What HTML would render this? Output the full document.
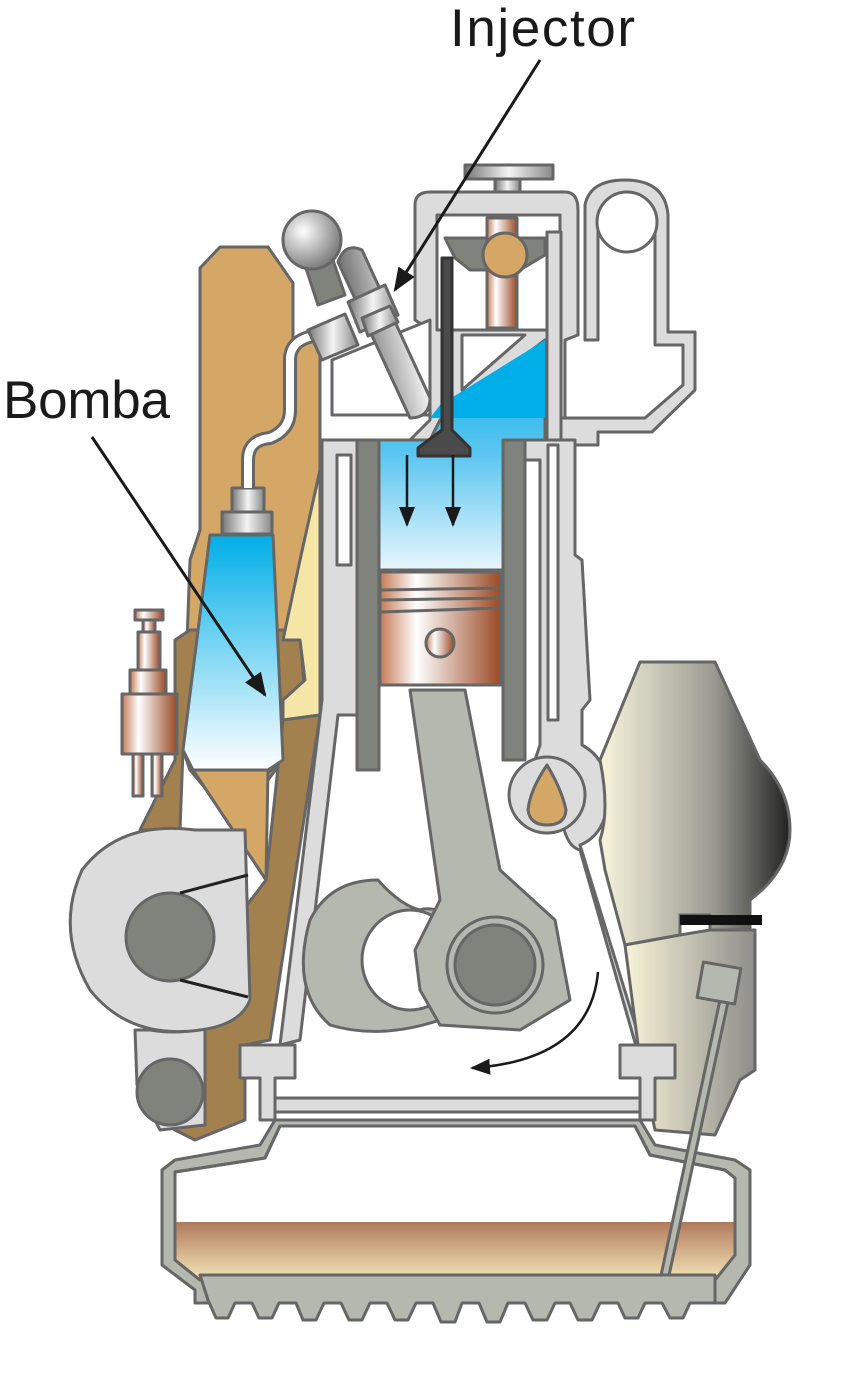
<!DOCTYPE html>
<html><head><meta charset="utf-8"><style>html,body{margin:0;padding:0;background:#fff}svg{display:block}</style></head>
<body>
<svg width="860" height="1393" viewBox="0 0 860 1393" xmlns="http://www.w3.org/2000/svg">
<defs>
<linearGradient id="blue" x1="0" y1="0" x2="0" y2="1"><stop offset="0" stop-color="#00aee8"/><stop offset="1" stop-color="#fff"/></linearGradient>
<linearGradient id="blue2" x1="0" y1="0" x2="0" y2="1"><stop offset="0" stop-color="#00aee8"/><stop offset="0.5" stop-color="#5cc6f0"/><stop offset="1" stop-color="#e8f6fd"/></linearGradient>
<linearGradient id="cu" x1="0" y1="0" x2="1" y2="0"><stop offset="0" stop-color="#c47a55"/><stop offset="0.3" stop-color="#fff"/><stop offset="1" stop-color="#9a4a25"/></linearGradient>
<linearGradient id="metal" x1="0" y1="0" x2="1" y2="0"><stop offset="0" stop-color="#777"/><stop offset="0.5" stop-color="#f4f4f4"/><stop offset="1" stop-color="#888"/></linearGradient>
<linearGradient id="metald" x1="0" y1="0" x2="1" y2="-0.45"><stop offset="0" stop-color="#777"/><stop offset="0.5" stop-color="#f4f4f4"/><stop offset="1" stop-color="#888"/></linearGradient>
<linearGradient id="cam" x1="0" y1="0" x2="1" y2="0"><stop offset="0" stop-color="#f8f5dc"/><stop offset="0.6" stop-color="#9a9a92"/><stop offset="1" stop-color="#222"/></linearGradient>
<linearGradient id="low" x1="0" y1="0" x2="1" y2="0"><stop offset="0" stop-color="#f8f4d8"/><stop offset="1" stop-color="#8e8e8a"/></linearGradient>
<linearGradient id="oil" x1="0" y1="0" x2="0" y2="1"><stop offset="0" stop-color="#b07a5c"/><stop offset="1" stop-color="#f4e6b8"/></linearGradient>
<radialGradient id="ball" cx="0.35" cy="0.35" r="0.7"><stop offset="0" stop-color="#fff"/><stop offset="1" stop-color="#777"/></radialGradient>
<marker id="ah" viewBox="0 0 10 10" refX="9" refY="5" markerWidth="8" markerHeight="8" orient="auto"><path d="M0,1 L10,5 L0,9 z" fill="#1a1a1a"/></marker>
</defs>
<g stroke="#666" stroke-width="3" stroke-linejoin="round">
<path d="M200,268 L220,247 L268,247 L293,283 L293,340 L320,340 L320,520 L300,630 L283,640 L283,760 L268,780 L193,770 L183,750 L190,560 L200,530 Z" fill="#d4a766"/>
<path d="M175,640 L190,630 L300,630 L305,700 L283,720 L283,760 L266,775 L266,880 L215,800 L190,770 L183,750 L180,830 L140,830 L175,760 Z" fill="#a3814f"/>
<path d="M300,560 L320,470 L320,715 L283,720 L283,700 L305,680 L300,640 L283,640 Z" fill="#f6e6a6"/>
<path d="M283,720 L320,715 L270,1040 L245,1045 L245,1120 L195,1140 L175,1130 L160,1120 L175,1000 L266,880 Z" fill="#a3814f"/>
<path d="M193,770 L268,770 L266,880 Z" fill="#d4a766"/>
<path d="M210,535 L273,535 L283,760 L268,770 L193,770 L183,750 Z" fill="url(#blue)"/>
<rect x="222" y="512" width="50" height="22" fill="url(#metal)"/>
<rect x="232" y="488" width="32" height="24" fill="url(#metal)"/>
<path d="M248,488 L248,460 Q248,440 270,438 Q290,430 290,410 L290,360 Q290,338 320,335" fill="none" stroke="#666" stroke-width="14"/>
<path d="M248,488 L248,460 Q248,440 270,438 Q290,430 290,410 L290,360 Q290,338 320,335" fill="none" stroke="#fff" stroke-width="8"/>
<rect x="135" y="610" width="28" height="10" fill="url(#cu)"/>
<rect x="143" y="620" width="12" height="12" fill="url(#cu)"/>
<rect x="138" y="632" width="22" height="38" fill="url(#cu)"/>
<rect x="130" y="670" width="36" height="24" fill="url(#cu)"/>
<rect x="122" y="694" width="55" height="60" fill="url(#cu)"/>
<rect x="133" y="754" width="10" height="42" fill="url(#cu)"/>
<rect x="152" y="754" width="10" height="42" fill="url(#cu)"/>
<path d="M250,1000 Q210,1040 150,1030 L135,1030 L137,1085 L160,1130 L205,1125 L205,1030" fill="#dcdcdc"/>
<path d="M245,830 L195,830 Q120,820 82,870 Q55,930 90,990 Q130,1040 200,1030 Q240,1025 250,1000 Z" fill="#dcdcdc"/>
<circle cx="170" cy="937" r="44" fill="#7f837b"/>
<circle cx="170" cy="1092" r="33" fill="#7f837b"/>
<line x1="180" y1="893" x2="248" y2="875" stroke="#222"/>
<line x1="180" y1="980" x2="248" y2="997" stroke="#222"/>
<path d="M320,440 L410,440 L430,420 L430,330 L415,320 L415,205 Q415,192 430,192 L565,192 Q578,192 578,210 L578,335 L565,340 L565,422 L545,422 L545,440 L320,440" fill="#dcdcdc"/>
<path d="M437,215 L560,215 L560,330 L545,330 L545,330 L437,330 Z" fill="#fff"/>
<path d="M585,205 Q590,180 625,180 Q665,180 668,215 L668,332 L695,332 L695,390 L652,432 L598,432 L598,445 L470,445 Q470,420 490,418 L645,418 L683,385 L683,345 L655,345 L655,225 Q650,195 625,195 Q600,195 598,225 L598,340 L585,340 Z" fill="#dcdcdc"/>
<circle cx="627" cy="222" r="30" fill="#fff"/>
<rect x="465" y="165" width="88" height="14" fill="url(#metal)"/>
<rect x="495" y="179" width="25" height="13" fill="url(#metal)"/>
<path d="M332,360 L430,320 L430,415 L332,415 Z" fill="#fff"/>
<path d="M378,440 L430,440 L440,420 L545,340 L545,440 L503,440 L503,570 L378,570 Z" fill="url(#blue2)"/>
<path d="M545,340 L545,418 L430,418 L440,405 Z" fill="#00aee8" stroke="none"/>
<path d="M462,335 L525,335 L462,390 Z" fill="#fff"/>
<path d="M445,238 L545,238 L545,255 L520,270 L470,270 L455,258 Z" fill="#7f837b"/>
<rect x="487" y="218" width="30" height="110" fill="url(#cu)"/>
<circle cx="505" cy="255" r="22" fill="#d4a766"/>
<rect x="547" y="232" width="14" height="210" fill="#dcdcdc"/>
<path d="M442,258 L452,258 L452,430 L470,448 L470,456 L418,456 L418,448 L442,430 Z" fill="#4a4a4a" stroke="#333"/>
<path d="M300,250 L318,305 L345,295 L326,240 Z" fill="#7f837b"/>
<circle cx="312" cy="240" r="29" fill="url(#ball)"/>
<path d="M338,262 Q345,242 362,250 L430,398 Q430,418 410,418 Z" fill="url(#metald)"/>
<path d="M348,302 L385,285 L398,315 L360,332 Z" fill="url(#metal)"/>
<path d="M362,318 L390,306 L398,322 L368,336 Z" fill="url(#metal)"/>
<path d="M308,330 L345,314 L358,345 L322,360 Z" fill="url(#metal)"/>
<rect x="357" y="440" width="22" height="330" fill="#7f837b"/>
<rect x="503" y="440" width="22" height="320" fill="#7f837b"/>
<path d="M322,440 L357,440 L357,715 L338,715 L300,1040 L280,1045 L322,700 Z" fill="#dcdcdc"/>
<rect x="337" y="455" width="14" height="110" fill="#fff"/>
<path d="M525,440 L575,440 L575,555 L582,560 L590,700 L582,710 L582,745 Q610,760 608,800 Q605,835 580,845 L640,1040 L660,1050 L640,1060 L580,850 Q560,845 560,790 L560,760 L535,760 L540,745 L540,460 L525,460 Z" fill="#dcdcdc"/>
<rect x="548" y="445" width="10" height="275" fill="#fff"/>
<circle cx="547" cy="795" r="38" fill="#dcdcdc"/>
<path d="M547,765 Q530,790 528,810 Q530,825 547,825 Q565,825 566,810 Q562,790 547,765 Z" fill="#d4a766"/>
<rect x="380" y="572" width="121" height="113" fill="url(#cu)"/>
<line x1="380" y1="590" x2="501" y2="588"/><line x1="380" y1="600" x2="501" y2="598"/><line x1="380" y1="612" x2="501" y2="608"/>
<circle cx="440" cy="643" r="14" fill="url(#cu)"/>
<path d="M378,880 Q330,880 310,920 Q290,990 330,1025 Q380,1040 440,1020 L470,920 Q430,905 420,910 Q400,905 378,880 Z" fill="#b4b8ae"/>
<ellipse cx="410" cy="960" rx="48" ry="50" fill="#fff"/>
<path d="M410,690 L465,690 L500,870 L555,920 L570,1000 L520,1030 L440,1025 L420,990 L415,950 L440,900 Z" fill="#b4b8ae"/>
<circle cx="495" cy="965" r="48" fill="#b4b8ae"/>
<circle cx="495" cy="965" r="40" fill="#7f837b"/>
<path d="M640,662 L715,662 L760,760 Q790,790 790,830 Q790,870 750,900 L750,930 L710,930 L710,915 L680,915 L680,935 L625,945 L605,870 L600,840 Q610,810 600,760 Z" fill="url(#cam)"/>
<rect x="680" y="915" width="82" height="10" fill="#111" stroke="none"/>
<path d="M625,945 L680,935 L710,930 L755,930 L755,1070 L740,1080 L715,1135 L655,1130 L640,1060 Z" fill="url(#low)"/>
<!-- sump -->
<path d="M175,1160 L260,1145 L275,1120 L640,1120 L655,1145 L735,1160 L750,1170 L750,1265 L725,1303 L195,1303 L195,1290 L162,1265 L162,1170 Z" fill="#b4b8ae"/>
<path d="M175,1172 L265,1158 L280,1126 L635,1126 L650,1155 L725,1170 L735,1178 L735,1255 L715,1280 L200,1280 L175,1260 Z" fill="#fff"/>
<path d="M175,1222 L735,1222 L735,1255 L715,1280 L200,1280 L175,1260 Z" fill="url(#oil)" stroke="none"/>
<path d="M175,1172 L265,1158 L280,1126 L635,1126 L650,1155 L725,1170 L735,1178 L735,1255 L715,1280 L200,1280 L175,1260 Z" fill="none"/>
<rect x="275" y="1098" width="365" height="14" fill="#dcdcdc"/>
<path d="M240,1045 L295,1045 L295,1078 L275,1078 L275,1120 L260,1120 L260,1078 L240,1078 Z" fill="#dcdcdc"/>
<path d="M620,1045 L675,1045 L675,1078 L655,1078 L655,1120 L640,1120 L640,1078 L620,1078 Z" fill="#dcdcdc"/>
<path d="M720,1000 L660,1280 L668,1280 L728,1002 Z" fill="#b4b8ae"/>
<rect x="700" y="965" width="38" height="36" fill="#b4b8ae" transform="rotate(10 719 983)"/>
<path d="M200,1275 L715,1275 L715,1303 L690,1303 L683,1318 L670,1318 L662,1303 L645,1303 L638,1318 L625,1318 L618,1303 L600,1303 L592,1320 L578,1320 L570,1303 L555,1303 L547,1320 L533,1320 L525,1303 L508,1303 L500,1322 L487,1322 L479,1303 L462,1303 L455,1322 L441,1322 L433,1303 L416,1303 L408,1320 L395,1320 L387,1303 L370,1303 L362,1320 L349,1320 L341,1303 L324,1303 L316,1320 L303,1320 L296,1303 L279,1303 L272,1318 L259,1318 L252,1303 L235,1303 L228,1318 L216,1318 L208,1300 Z" fill="#b4b8ae"/>
</g>
<g stroke="#1a1a1a" stroke-width="2.5" fill="none">
<line x1="540" y1="60" x2="395" y2="290" marker-end="url(#ah)" stroke-width="3"/>
<line x1="92" y1="437" x2="265" y2="695" marker-end="url(#ah)" stroke-width="3"/>
<line x1="407" y1="455" x2="407" y2="525" marker-end="url(#ah)"/>
<line x1="453" y1="455" x2="453" y2="525" marker-end="url(#ah)"/>
<path d="M598,972 Q590,1060 472,1068" marker-end="url(#ah)"/>
</g>
<text x="450" y="46" font-family="Liberation Sans, sans-serif" font-size="53" textLength="185" fill="#1a1a1a">Injector</text>
<text x="3" y="418" font-family="Liberation Sans, sans-serif" font-size="53" textLength="167" fill="#1a1a1a">Bomba</text>
</svg>
</body></html>
